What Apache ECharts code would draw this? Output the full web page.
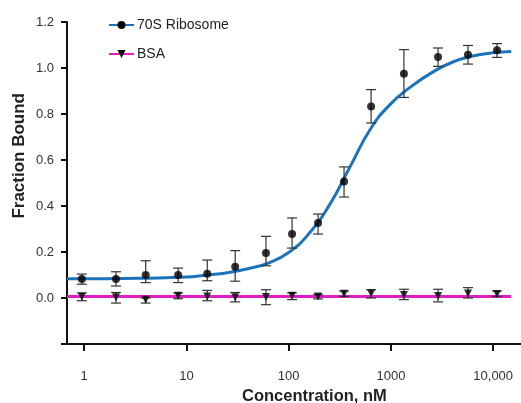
<!DOCTYPE html>
<html>
<head>
<meta charset="utf-8">
<script src="https://cdn.jsdelivr.net/npm/echarts@6/dist/echarts.min.js"></script>
<style>
  html, body { margin: 0; padding: 0; background: #fff; }
  #chart { width: 521px; height: 403px; }
</style>
</head>
<body>
<div id="chart"></div>
<script>
// concentration of each dilution, nM
const conc = [0.95, 2.05, 4.0, 8.3, 16, 30, 60, 108, 194, 348, 640, 1340, 2890, 5670, 10900];

// 70S Ribosome: mean and error bar ends
const riboMean = [0.083, 0.083, 0.1, 0.1, 0.105, 0.136, 0.196, 0.278, 0.326, 0.507, 0.833, 0.975, 1.048, 1.058, 1.077];
const riboLow = [0.06, 0.052, 0.067, 0.067, 0.075, 0.073, 0.14, 0.217, 0.278, 0.439, 0.761, 0.872, 1.007, 1.017, 1.046];
const riboHigh = [0.104, 0.114, 0.162, 0.13, 0.165, 0.206, 0.268, 0.348, 0.365, 0.57, 0.906, 1.08, 1.087, 1.098, 1.106];

// BSA: mean and error bar ends
const bsaMean = [0.005, 0.003, -0.008, 0.01, 0.006, 0.003, 0.004, 0.01, 0.006, 0.019, 0.02, 0.013, 0.009, 0.02, 0.017];
const bsaLow = [-0.012, -0.022, -0.022, -0.003, -0.012, -0.017, -0.029, -0.007, -0.004, 0.007, 0.0, -0.007, -0.017, 0.0, 0.007];
const bsaHigh = [0.022, 0.024, 0.0, 0.022, 0.033, 0.024, 0.036, 0.022, 0.016, 0.03, 0.036, 0.038, 0.038, 0.045, 0.03];

// fitted curves
const riboFitX = [0.68, 1.58, 3.98, 10, 15.8, 25.1, 39.8, 63.1, 100, 158, 251, 398, 631, 1000, 1585, 2512, 3981, 6310, 10000, 15000];
const riboFitY = [0.084, 0.084, 0.086, 0.091, 0.1, 0.11, 0.127, 0.152, 0.198, 0.28, 0.405, 0.57, 0.735, 0.845, 0.92, 0.98, 1.025, 1.052, 1.066, 1.072];
const bsaFitX = [0.68, 15000];
const bsaFitY = [0.007, 0.007];

// axis ticks
const xTicks = [1, 10, 100, 1000, 10000];
const xTickLabels = ['1', '10', '100', '1000', '10,000'];

const FONT = 'Liberation Sans, Arial, sans-serif';
const BLUE = '#1a74bd';
const PINK = '#e21cc0';

const lg = v => Math.log10(v);

const chart = echarts.init(document.getElementById('chart'));

function pts(xs, ys) {
    return xs.map((x, i) => [lg(x), ys[i]]);
}

function bars(lo, hi) {
    return conc.map((x, i) => [lg(x), lo[i], hi[i]]);
}

// error bars drawn through the axis scales
function renderErr(params, api) {
    const x = api.value(0);
    const top = api.coord([x, api.value(2)]);
    const bot = api.coord([x, api.value(1)]);
    const w = 5;
    const st = {stroke: '#333', lineWidth: 1.2};
    return {
        type: 'group',
        children: [
            {type: 'line', shape: {x1: top[0], y1: top[1], x2: bot[0], y2: bot[1]}, style: st},
            {type: 'line', shape: {x1: top[0] - w, y1: top[1], x2: top[0] + w, y2: top[1]}, style: st},
            {type: 'line', shape: {x1: bot[0] - w, y1: bot[1], x2: bot[0] + w, y2: bot[1]}, style: st}
        ]
    };
}

chart.setOption({
    animation: false,
    textStyle: {fontFamily: FONT},
    grid: {left: 67, right: 0, top: 22, bottom: 59},
    legend: {
        left: 103,
        top: 13,
        orient: 'vertical',
        itemWidth: 25,
        itemHeight: 10,
        itemGap: 15,
        itemStyle: {},
        textStyle: {fontSize: 14, color: '#222', fontFamily: FONT, padding: [0, 0, 0, -2]},
        data: [
            {name: '70S Ribosome', itemStyle: {color: '#000'}},
            {name: 'BSA', itemStyle: {color: '#000'}}
        ]
    },
    xAxis: {
        type: 'value',
        min: lg(0.68),
        max: 4.272,
        axisLine: {onZero: false, lineStyle: {color: '#111', width: 2}},
        axisTick: {show: true, length: 7, customValues: xTicks.map(lg), lineStyle: {color: '#111', width: 2}},
        axisLabel: {
            customValues: xTicks.map(lg),
            margin: 26,
            fontSize: 13,
            color: '#333',
            formatter: v => xTickLabels[Math.round(v)]
        },
        splitLine: {show: false}
    },
    yAxis: {
        type: 'value',
        min: -0.2,
        max: 1.2,
        interval: 0.2,
        axisLine: {show: true, onZero: false, lineStyle: {color: '#111', width: 2}},
        axisTick: {show: true, length: 6, lineStyle: {color: '#111', width: 2}},
        axisLabel: {
            margin: 13,
            fontSize: 13,
            color: '#333',
            formatter: v => (v < -0.1 ? '' : v.toFixed(1))
        },
        splitLine: {show: false}
    },
    graphic: [
        {
            type: 'text', left: 11, top: 93, rotation: Math.PI / 2,
            style: {text: 'Fraction Bound', font: 'bold 17px ' + FONT, fill: '#222'}
        },
        {
            type: 'text', left: 242, top: 388,
            style: {text: 'Concentration, nM', font: 'bold 16.5px ' + FONT, fill: '#222'}
        }
    ],
    series: [
        {
            name: '70S Ribosome',
            type: 'line',
            data: pts(riboFitX, riboFitY),
            smooth: 0.5,
            symbol: 'circle',
            showSymbol: false,
            lineStyle: {color: BLUE, width: 3},
            itemStyle: {color: BLUE},
            z: 2
        },
        {
            name: 'BSA',
            type: 'line',
            data: pts(bsaFitX, bsaFitY),
            symbol: 'triangle',
            symbolRotate: 180,
            showSymbol: false,
            lineStyle: {color: PINK, width: 3},
            itemStyle: {color: PINK},
            z: 2
        },
        {
            name: '70S Ribosome',
            type: 'custom',
            renderItem: renderErr,
            data: bars(riboLow, riboHigh),
            z: 3
        },
        {
            name: 'BSA',
            type: 'custom',
            renderItem: renderErr,
            data: bars(bsaLow, bsaHigh),
            z: 3
        },
        {
            name: '70S Ribosome',
            type: 'scatter',
            data: pts(conc, riboMean),
            symbol: 'circle',
            symbolSize: 8,
            itemStyle: {color: '#000'},
            z: 4
        },
        {
            name: 'BSA',
            type: 'scatter',
            data: pts(conc, bsaMean),
            symbol: 'triangle',
            symbolRotate: 180,
            symbolSize: 8,
            itemStyle: {color: '#000'},
            z: 4
        }
    ]
});
</script>
</body>
</html>
